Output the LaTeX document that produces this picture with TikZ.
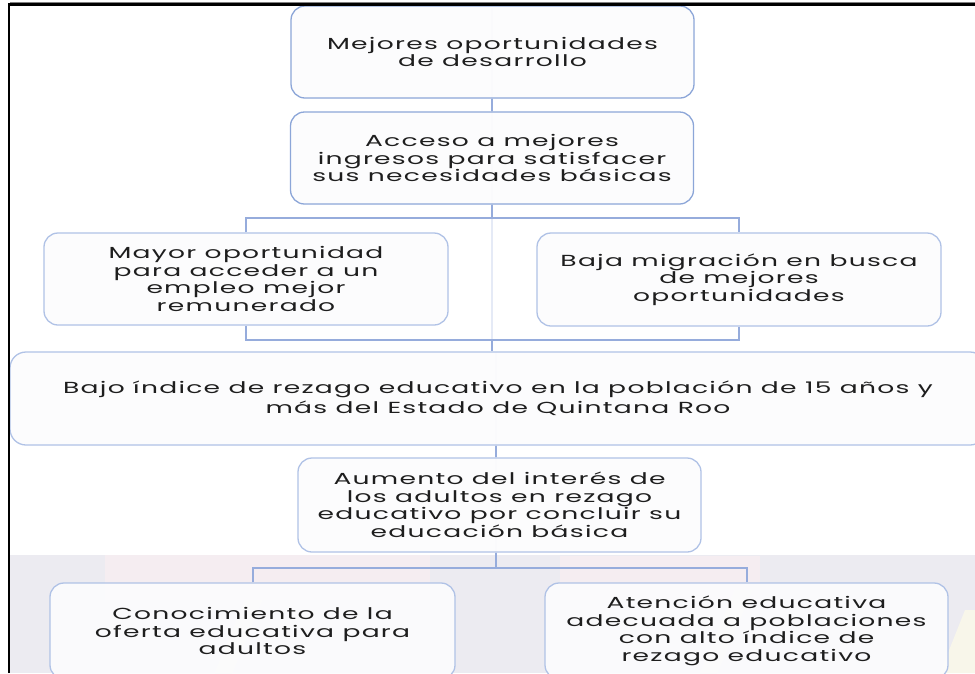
\documentclass[tikz,border=0pt]{standalone}
\usepackage{fontspec}
\setmainfont{Poppins}[FakeStretch=1.66,LetterSpace=8]
\definecolor{bxline}{RGB}{176,194,230}
\definecolor{bxlinetop}{RGB}{140,166,216}
\definecolor{bxfill}{RGB}{252,252,253}
\definecolor{lnk}{RGB}{150,172,220}
\definecolor{txt}{RGB}{30,30,30}
\definecolor{bgtex}{RGB}{236,235,241}
\definecolor{bgpink}{RGB}{245,237,241}
\definecolor{bgyel}{RGB}{248,246,234}
\begin{document}
\begin{tikzpicture}[x=1pt,y=-1pt,
  box/.style={draw=bxline, line width=1.3pt, fill=bxfill, fill opacity=0.93, text opacity=1,
    rounded corners=14pt, align=center, text=txt, inner sep=0pt,
    font=\fontsize{16}{17.5}\selectfont, minimum height=92pt, minimum width=403pt},
  boxtop/.style={box, draw=bxlinetop},
  link/.style={draw=lnk, line width=2pt},
  faint/.style={draw=lnk!25, line width=1.5pt}]
\useasboundingbox (0,0) rectangle (975,673);
\clip (0,0) rectangle (975,673);
\fill[white] (0,0) rectangle (975,673);
% background texture at the bottom
\fill[bgtex] (10,555) rectangle (975,673);
\fill[bgpink] (105,555) rectangle (430,600);
\fill[bgpink] (560,556) rectangle (760,600);
\fill[bgyel] (215,673) -- (245,600) -- (262,600) -- (232,673) -- cycle;
\fill[bgyel] (700,673) -- (735,590) -- (752,590) -- (717,673) -- cycle;
\fill[bgyel] (940,673) -- (965,610) -- (975,610) -- (975,673) -- cycle;
% faint spine seen through the boxes
\coordinate (s1) at (492,0);
\coordinate (s2) at (496,0);
\draw[faint] (s1 |- 0,8) -- (s1 |- 0,340);
\draw[faint] (s2 |- 0,352) -- (s2 |- 0,568);
% boxes
\node[boxtop] (b1) at (492.5,52) {Mejores oportunidades\\de desarrollo};
\node[boxtop] (b2) at (492,158) {Acceso a mejores\\ingresos para satisfacer\\sus necesidades básicas};
\node[box, minimum width=404pt] (b3) at (246,279) {Mayor oportunidad\\para acceder a un\\empleo mejor\\remunerado};
\node[box, minimum width=404pt, minimum height=93pt] (b4) at (739,279.5) {Baja migración en busca\\de mejores\\oportunidades};
\node[box, minimum width=976pt, minimum height=93pt, rounded corners=16pt, font=\fontsize{16}{20}\selectfont] (b5) at (498,398.5) {Bajo índice de rezago educativo en la población de 15 años y\\más del Estado de Quintana Roo};
\node[box, minimum height=94pt] (b6) at (499.5,505) {Aumento del interés de\\los adultos en rezago\\educativo por concluir su\\educación básica};
\node[box, minimum width=405pt, minimum height=96pt] (b7) at (252.5,631) {Conocimiento de la\\oferta educativa para\\adultos};
\node[box, minimum height=96pt] (b8) at (746.5,631) {Atención educativa\\adecuada a poblaciones\\con alto índice de\\rezago educativo};
% connectors
\draw[link] (s1 |- b1.south) -- (s1 |- b2.north);
\draw[link] (s1 |- b2.south) -- (s1 |- 0,218);
\draw[link] (b3.north) -- (b3.north |- 0,218) -- (b4.north |- 0,218) -- (b4.north);
\draw[link] (b3.south) -- (b3.south |- 0,340) -- (b4.south |- 0,340) -- (b4.south);
\draw[link] (s1 |- 0,340) -- (s1 |- b5.north);
\draw[link] (s2 |- b5.south) -- (s2 |- b6.north);
\draw[link] (s2 |- b6.south) -- (s2 |- 0,568);
\draw[link] (b7.north) -- (b7.north |- 0,568) -- (b8.north |- 0,568) -- (b8.north);
% frame
\draw[black, line width=2.2pt] (9,673) -- (9,4.5) -- (975,4.5);
\draw[gray, line width=0.8pt] (10,2.5) -- (975,2.5);
\end{tikzpicture}
\end{document}
